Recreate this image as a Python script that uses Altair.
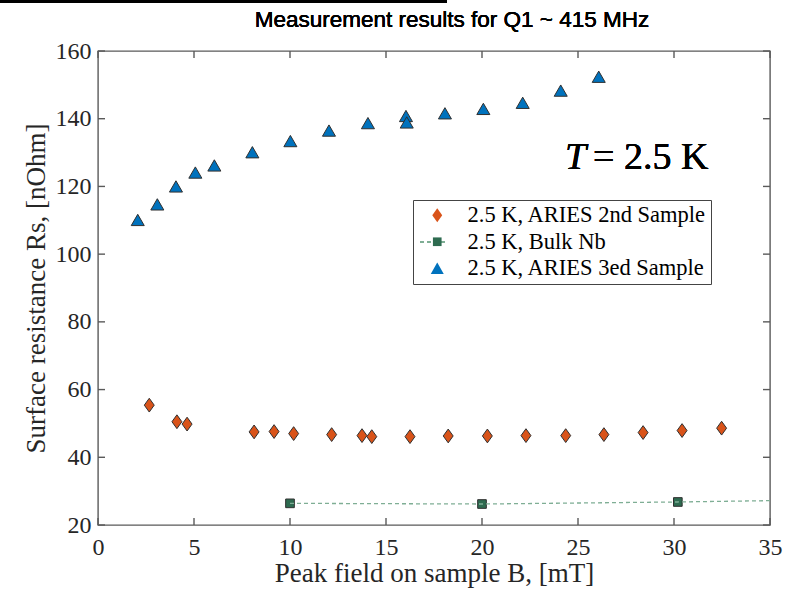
import altair as alt
import pandas as pd

# Axis tick positions
x_ticks = [0, 5, 10, 15, 20, 25, 30, 35]
y_ticks = [20, 40, 60, 80, 100, 120, 140, 160]

# 2.5 K, ARIES 2nd Sample
aries2_field = [2.67, 4.11, 4.64, 8.13, 9.17, 10.19, 12.17, 13.75, 14.26,
                16.25, 18.24, 20.28, 22.29, 24.36, 26.35, 28.39, 30.42, 32.48]
aries2_rs = [55.4, 50.5, 49.8, 47.5, 47.6, 47.0, 46.7, 46.4, 46.1,
             46.1, 46.3, 46.3, 46.4, 46.4, 46.7, 47.3, 47.9, 48.6]

# 2.5 K, Bulk Nb (markers and dashed trace)
bulk_field = [10.0, 20.0, 30.2]
bulk_rs = [26.4, 26.2, 26.8]
bulk_trace_field = [10.0, 20.0, 30.2, 35.0]
bulk_trace_rs = [26.4, 26.2, 26.8, 27.2]

# 2.5 K, ARIES 3ed Sample
aries3_field = [2.07, 3.09, 4.06, 5.07, 6.06, 8.04, 10.02, 12.03, 14.06,
                16.04, 16.08, 18.07, 20.07, 22.12, 24.10, 26.08]
aries3_rs = [110.1, 114.7, 120.0, 124.1, 126.2, 130.1, 133.4, 136.5, 138.7,
             140.8, 138.9, 141.6, 142.9, 144.7, 148.3, 152.4]

series_names = ["2.5 K, ARIES 2nd Sample", "2.5 K, Bulk Nb", "2.5 K, ARIES 3ed Sample"]
series_fill = ["#D95319", "#2E6B50", "#0072BD"]
DIAMOND = "M0,-1L0.72,0L0,1L-0.72,0Z"
series_shape = [DIAMOND, "square", "triangle-up"]
series_size = [190, 75, 170]

points = pd.concat([
    pd.DataFrame({"B": aries2_field, "Rs": aries2_rs, "series": series_names[0]}),
    pd.DataFrame({"B": bulk_field, "Rs": bulk_rs, "series": series_names[1]}),
    pd.DataFrame({"B": aries3_field, "Rs": aries3_rs, "series": series_names[2]}),
], ignore_index=True)
trace = pd.DataFrame({"B": bulk_trace_field, "Rs": bulk_trace_rs})

W, H = 672, 474
SERIF = "Liberation Serif"
FRAME = "#5a5a5a"
TEXT = "#262626"

xs = alt.Scale(domain=[0, 35], nice=False, zero=False)
ys = alt.Scale(domain=[20, 160], nice=False, zero=False)

legend = alt.Legend(title=None, orient="none", legendX=315, legendY=149,
                    strokeColor="#444", padding=4, labelFont=SERIF,
                    labelFontSize=22.5, labelColor="black", labelLimit=0,
                    symbolStrokeColor="#333", symbolStrokeWidth=1,
                    rowPadding=3.5, symbolOffset=9, labelOffset=19)

x_axis = alt.Axis(values=x_ticks, domain=False, ticks=False, grid=False,
                  labelFont=SERIF, labelFontSize=24, labelColor=TEXT,
                  labelPadding=10, labelFlush=False,
                  title="Peak field on sample B, [mT]", titleFont=SERIF,
                  titleFontSize=27, titleFontWeight="normal", titleColor=TEXT,
                  titlePadding=1)
y_axis = alt.Axis(values=y_ticks, domain=False, ticks=False, grid=False,
                  labelFont=SERIF, labelFontSize=24, labelColor=TEXT,
                  labelPadding=7, labelFlush=False,
                  title="Surface resistance Rs, [nOhm]", titleFont=SERIF,
                  titleFontSize=27, titleFontWeight="normal", titleColor=TEXT,
                  titlePadding=5)


def xenc(field):
    return alt.X(field, type="quantitative", scale=xs, axis=x_axis, title=x_axis.title)


def yenc(field):
    return alt.Y(field, type="quantitative", scale=ys, axis=y_axis, title=y_axis.title)


trace_line = alt.Chart(trace).mark_line(
    color="#7FAE95", strokeWidth=1.3, strokeDash=[4, 3]
).encode(x=xenc("B"), y=yenc("Rs"))

markers = alt.Chart(points).mark_point(
    filled=True, opacity=1, stroke="#303030", strokeWidth=1
).encode(
    x=xenc("B"),
    y=yenc("Rs"),
    fill=alt.Fill("series:N", scale=alt.Scale(domain=series_names, range=series_fill),
                  legend=legend),
    shape=alt.Shape("series:N", scale=alt.Scale(domain=series_names, range=series_shape),
                    legend=legend),
    size=alt.Size("series:N", scale=alt.Scale(type="ordinal", domain=series_names,
                                              range=series_size),
                  legend=legend),
)

# Dashes behind the Bulk Nb legend symbol
legend_dash = alt.Chart(trace).mark_rule(
    color="#7FAE95", strokeWidth=1.3, strokeDash=[4, 3]
).encode(x=alt.value(322), x2=alt.value(349), y=alt.value(191))

# Inward ticks on all four sides of the frame
xt = pd.DataFrame({"B": x_ticks})
yt = pd.DataFrame({"Rs": y_ticks})
tick_style = dict(color=FRAME, strokeWidth=1.4)
ticks_bottom = alt.Chart(xt).mark_rule(**tick_style).encode(
    x=xenc("B"), y=alt.value(H), y2=alt.value(H - 7))
ticks_top = alt.Chart(xt).mark_rule(**tick_style).encode(
    x=xenc("B"), y=alt.value(0), y2=alt.value(7))
ticks_left = alt.Chart(yt).mark_rule(**tick_style).encode(
    y=yenc("Rs"), x=alt.value(0), x2=alt.value(7))
ticks_right = alt.Chart(yt).mark_rule(**tick_style).encode(
    y=yenc("Rs"), x=alt.value(W), x2=alt.value(W - 7))

# Temperature annotation
t_symbol = alt.Chart(trace).mark_text(
    text="T", font=SERIF, fontSize=38, fontStyle="italic", color="black",
    align="left", baseline="alphabetic"
).encode(x=alt.value(467), y=alt.value(118))
t_value = alt.Chart(trace).mark_text(
    text="= 2.5 K", font=SERIF, fontSize=38, color="black",
    align="left", baseline="alphabetic"
).encode(x=alt.value(495), y=alt.value(118))

# Heading and the rule above it
HEADING = "Measurement results for Q1 ~ 415 MHz"
heading = alt.Chart(trace).mark_text(
    text=HEADING, font="Liberation Sans", fontSize=22.5, color="black",
    align="center", baseline="middle"
).encode(x=alt.value(354), y=alt.value(-31))
top_rule = alt.Chart(trace).mark_rule(color="black", strokeWidth=3).encode(
    x=alt.value(-98), x2=alt.value(349), y=alt.value(-49.5))

chart = alt.layer(
    markers, trace_line, legend_dash,
    ticks_bottom, ticks_top, ticks_left, ticks_right,
    t_symbol, t_value, heading, top_rule,
).properties(
    width=W, height=H,
    autosize=alt.AutoSizeParams(type="none"),
    padding={"left": 98, "top": 51, "right": 26, "bottom": 68},
    background="white",
).configure_view(
    stroke=FRAME, strokeWidth=1.4
)

chart.save("out.html", embed_options={"renderer": "svg", "actions": False})
